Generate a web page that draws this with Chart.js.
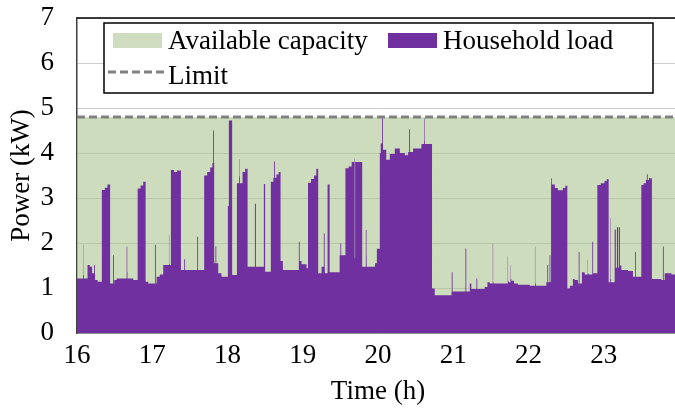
<!DOCTYPE html>
<html>
<head>
<meta charset="utf-8">
<script src="https://cdn.jsdelivr.net/npm/chart.js@4.4.1/dist/chart.umd.min.js"></script>
<style>
  html, body { margin: 0; padding: 0; background: #fff; }
  #wrap { width: 675px; height: 416px; overflow: hidden; }
  canvas { display: block; }
</style>
</head>
<body>
<div id="wrap"><canvas id="chart" width="679" height="416"></canvas></div>
<script>
// grid connection limit (kW)
const limitKw = 4.8

// household load as a step profile: value holds from each time until the next one
const stepHours = [
  16.000, 16.084, 16.140, 16.170, 16.200, 16.240, 16.275, 16.330, 16.370, 16.405,
  16.440, 16.495, 16.527, 16.668, 16.748, 16.806, 16.845, 16.880, 16.912, 16.947,
  17.058, 17.100, 17.146, 17.226, 17.248, 17.290, 17.330, 17.381, 17.690, 17.730,
  17.770, 17.800, 17.823, 17.877, 17.920, 18.005, 18.018, 18.062, 18.125, 18.160,
  18.200, 18.235, 18.267, 18.364, 18.377, 18.483, 18.500, 18.576, 18.610, 18.650,
  18.680, 18.705, 18.736, 18.948, 18.984, 19.050, 19.070, 19.110, 19.150, 19.180,
  19.205, 19.250, 19.293, 19.330, 19.357, 19.490, 19.567, 19.610, 19.650, 19.690,
  19.790, 19.847, 19.960, 19.985, 20.024, 20.036, 20.067, 20.110, 20.157, 20.223,
  20.290, 20.356, 20.400, 20.466, 20.577, 20.620, 20.687, 20.718, 20.754, 20.976,
  21.220, 21.240, 21.418, 21.454, 21.485, 21.530, 21.728, 21.764, 21.808, 21.860,
  22.016, 22.090, 22.237, 22.300, 22.310, 22.350, 22.390, 22.457, 22.490, 22.516,
  22.550, 22.590, 22.613, 22.657, 22.710, 22.746, 22.790, 22.915, 22.960, 23.010,
  23.040, 23.065, 23.092, 23.145, 23.160, 23.175, 23.190, 23.200, 23.215, 23.234,
  23.322, 23.388, 23.499, 23.530, 23.560, 23.600, 23.640, 23.765, 23.810, 23.900,
  24.000
]
const stepKw = [
  1.21, 1.29, 1.51, 1.47, 1.33, 1.18, 1.14, 3.18, 3.23, 3.30,
  1.10, 1.18, 1.21, 1.36, 1.18, 3.21, 3.28, 3.36, 1.14, 1.10,
  1.25, 1.30, 1.51, 1.53, 3.62, 3.58, 3.61, 1.40, 3.50, 3.58,
  3.68, 3.78, 1.55, 1.33, 1.25, 2.82, 4.72, 1.29, 3.33, 3.48,
  3.58, 3.65, 1.47, 2.87, 1.47, 3.31, 1.36, 3.36, 3.45, 3.52,
  3.58, 1.60, 1.40, 1.60, 1.53, 1.44, 3.34, 3.42, 3.50, 3.65,
  1.33, 1.47, 1.33, 3.30, 1.35, 1.73, 3.66, 3.70, 3.80, 1.66,
  1.47, 1.72, 1.55, 1.87, 4.00, 4.21, 4.07, 3.85, 3.98, 4.10,
  4.00, 3.95, 4.02, 4.10, 4.20, 4.27, 4.20, 0.99, 0.84, 0.92,
  1.10, 0.98, 1.02, 1.13, 1.10, 1.13, 1.16, 1.20, 1.10, 1.07,
  1.05, 1.10, 1.13, 3.44, 3.30, 3.22, 3.17, 3.22, 3.27, 0.99,
  1.05, 1.20, 1.18, 1.10, 1.35, 1.30, 1.33, 3.29, 3.33, 3.38,
  3.42, 1.13, 1.20, 2.30, 1.45, 2.35, 1.45, 2.35, 1.50, 1.40,
  1.38, 1.25, 3.29, 3.33, 3.40, 3.44, 1.20, 1.18, 1.33, 1.30,
  1.30
]

// one-minute peaks on top of the profile
const spikeHours = [
  16.080, 16.226, 16.480, 16.660, 17.036, 17.222, 17.425, 17.598, 17.810, 17.840,
  18.155, 18.620, 18.948, 19.280, 19.500, 19.685, 19.838, 20.055, 20.413, 20.613,
  20.980, 21.162, 21.308, 21.525, 21.724, 21.760, 22.086, 22.250, 22.280, 22.667,
  22.786, 22.848, 23.087, 23.415, 23.573, 23.786
]
const spikeKw = [
  1.96, 1.51, 1.73, 1.92, 1.96, 2.18, 1.64, 2.14, 4.50, 1.92,
  3.86, 3.81, 2.03, 2.21, 1.99, 3.88, 2.29, 4.77, 4.53, 4.77,
  1.35, 1.88, 1.21, 1.99, 1.70, 1.51, 1.92, 1.51, 1.73, 1.80,
  1.62, 2.03, 2.55, 1.80, 3.53, 1.92
]

const xTicks = [16, 17, 18, 19, 20, 21, 22, 23]
const spikeWidth = 0.011

const FONT = 'Liberation Serif'
const PURPLE = '#7030a0'
const GREEN = 'rgba(168,194,140,0.58)'
const LIMIT_GREY = '#808080'

const baseAt = (t) => {
  let v = stepKw[0]
  for (let i = 0; i < stepHours.length; i++) {
    if (stepHours[i] <= t) v = stepKw[i]
  }
  return v
}

const buildLoad = () => {
  const pts = stepHours.map((t, i) => ({ x: t, y: stepKw[i] }))
  spikeHours.forEach((t, i) => {
    pts.push({ x: t, y: spikeKw[i] })
    pts.push({ x: t + spikeWidth, y: baseAt(t) })
  })
  return pts.sort((a, b) => a.x - b.x)
}

// frame line along the top of the plot
const topFrame = {
  id: 'topFrame',
  afterDatasetsDraw(chart) {
    const { ctx, chartArea } = chart
    ctx.save()
    ctx.strokeStyle = '#000'
    ctx.lineWidth = 1.5
    ctx.beginPath()
    ctx.moveTo(chartArea.left, chartArea.top)
    ctx.lineTo(chartArea.right, chartArea.top)
    ctx.stroke()
    ctx.restore()
  }
}

// boxed legend drawn inside the plot
const boxLegend = {
  id: 'boxLegend',
  afterDraw(chart) {
    const { ctx, chartArea } = chart
    const ds = chart.data.datasets
    const left = chartArea.left + 27
    const top = chartArea.top + 5
    ctx.save()
    ctx.fillStyle = '#fff'
    ctx.fillRect(left, top, 549, 70)
    ctx.strokeStyle = '#000'
    ctx.lineWidth = 1.5
    ctx.strokeRect(left, top, 549, 70)

    ctx.font = `27px "${FONT}"`
    ctx.fillStyle = '#000'
    ctx.textBaseline = 'alphabetic'

    const items = [
      { d: ds[0], x: left + 9, base: top + 26 },
      { d: ds[1], x: left + 284, base: top + 26 },
      { d: ds[2], x: left + 2, base: top + 61 }
    ]
    items.forEach(({ d, x, base }, i) => {
      if (i < 2) {
        ctx.fillStyle = i === 0 ? 'rgb(207,220,191)' : d.backgroundColor
        ctx.fillRect(x, base - 16, 49, 15)
        ctx.fillStyle = '#000'
        ctx.fillText(d.label, x + 55, base)
      } else {
        ctx.strokeStyle = d.borderColor
        ctx.lineWidth = d.borderWidth
        ctx.setLineDash(d.borderDash)
        ctx.beginPath()
        ctx.moveTo(x + 2, base - 12)
        ctx.lineTo(x + 60, base - 12)
        ctx.stroke()
        ctx.setLineDash([])
        ctx.fillText(d.label, x + 62, base)
      }
    })
    ctx.restore()
  }
}

new Chart(document.getElementById('chart').getContext('2d'), {
  type: 'line',
  data: {
    datasets: [
      {
        label: 'Available capacity',
        data: [{ x: 16, y: limitKw }, { x: 24, y: limitKw }],
        backgroundColor: GREEN,
        borderWidth: 0,
        fill: 'origin',
        order: 3
      },
      {
        label: 'Household load',
        data: buildLoad(),
        backgroundColor: PURPLE,
        borderWidth: 0,
        stepped: true,
        fill: 'origin',
        order: 2
      },
      {
        label: 'Limit',
        data: [{ x: 16, y: limitKw }, { x: 24, y: limitKw }],
        borderColor: LIMIT_GREY,
        borderWidth: 3,
        borderDash: [8, 4],
        fill: false,
        order: 1
      }
    ]
  },
  options: {
    responsive: false,
    animation: false,
    devicePixelRatio: 1,
    layout: { padding: { left: 2, top: 0, right: 0, bottom: 8 } },
    elements: { point: { radius: 0 }, line: { tension: 0 } },
    plugins: {
      legend: { display: false },
      tooltip: { enabled: false }
    },
    scales: {
      x: {
        type: 'linear',
        min: 16,
        max: 24,
        afterBuildTicks: (axis) => { axis.ticks = xTicks.map(v => ({ value: v })) },
        afterFit: (axis) => { axis.height = 75 },
        ticks: {
          font: { family: FONT, size: 27 },
          color: '#000',
          padding: 7,
          maxRotation: 0
        },
        grid: { display: false, drawTicks: false },
        border: { color: '#595959', width: 1.5 },
        title: {
          display: true,
          text: 'Time (h)',
          font: { family: FONT, size: 27 },
          color: '#000',
          padding: { top: 2, bottom: 0 }
        }
      },
      y: {
        min: 0,
        max: 7,
        afterFit: (axis) => {
          axis.width = 75
          axis.paddingTop = 18
          axis.paddingBottom = 10
        },
        ticks: {
          stepSize: 1,
          font: { family: FONT, size: 27 },
          color: '#000',
          padding: 23
        },
        grid: { color: '#cccccc', lineWidth: 1, drawTicks: false },
        border: { color: '#404040', width: 1.5 },
        title: {
          display: true,
          text: 'Power (kW)',
          font: { family: FONT, size: 27 },
          color: '#000',
          padding: { top: 4, bottom: 4 }
        }
      }
    }
  },
  plugins: [topFrame, boxLegend]
})
</script>
</body>
</html>
